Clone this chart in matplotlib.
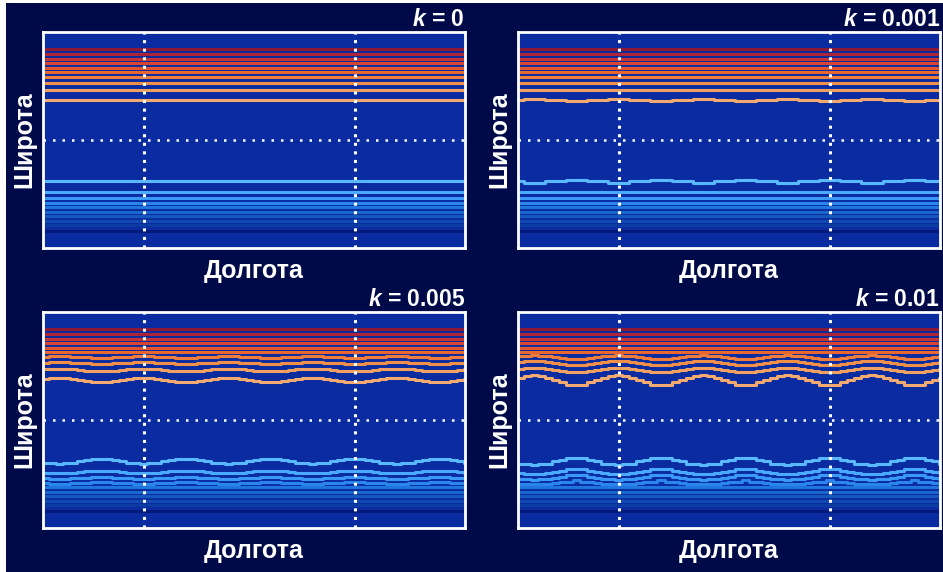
import numpy as np
import matplotlib
matplotlib.use("Agg")
import matplotlib.pyplot as plt
from matplotlib.patches import Rectangle

plt.rcParams['font.family'] = ['Liberation Sans', 'DejaVu Sans']
plt.rcParams['mathtext.fontset'] = 'custom'
plt.rcParams['mathtext.rm'] = 'Liberation Sans:bold'
plt.rcParams['mathtext.bfit'] = 'Liberation Sans:italic:bold'
plt.rcParams['mathtext.it'] = 'Liberation Sans:italic:bold'

# ---------------- data ----------------
k_values = ["0", "0.001", "0.005", "0.01"]

# base latitudes of contour lines, from equator outward (degrees)
lat_north = [33.3, 41.7, 47.5, 52.5, 56.7, 60.4, 64.2, 67.9, 71.7, 75.8]
lat_south = [-34.5, -43.1, -48.1, -52.3, -56.0, -59.8, -63.5, -67.3, -71.0, -75.6]

colors_north = ['#f2aa70', '#f0a060', '#f09048', '#ee7c3a', '#e86632', '#e05530',
                '#d64432', '#c63434', '#ac2438', '#8c1838']
colors_south = ['#5ab8ff', '#4aaaff', '#3a98f6', '#2a86ec', '#2076dc', '#1866cc',
                '#1458be', '#104ab0', '#0c3ca2', '#001a7a']

# one wave period of the equatorward displacement, sampled every 6 deg longitude
wave_profile = [1.0, 0.9, 0.68, 0.42, 0.2, 0.05, 0.0, 0.05, 0.2, 0.42, 0.68, 0.9]
wave_trough_lon = 54.0     # longitude of first maximum equatorward displacement
wave_step = 6.0            # degrees longitude per profile sample

# peak-to-peak displacement (deg) of each line, from equator outward
amp_north = [
    [0, 0, 0, 0, 0, 0, 0, 0, 0, 0],
    [1.8, 0.8, 0.6, 0.4, 0.2, 0.1, 0.1, 0.0, 0.0, 0.0],
    [4.5, 2.2, 2.0, 1.4, 0.6, 0.4, 0.3, 0.2, 0.1, 0.0],
    [8.0, 4.5, 4.0, 3.5, 0.8, 0.6, 0.4, 0.3, 0.2, 0.1],
]
amp_south = [
    [0, 0, 0, 0, 0, 0, 0, 0, 0, 0],
    [1.6, 0.6, 0.4, 0.3, 0.2, 0.1, 0.1, 0.0, 0.0, 0.0],
    [3.4, 2.2, 2.0, 1.4, 0.6, 0.4, 0.3, 0.2, 0.1, 0.0],
    [6.0, 4.2, 3.5, 3.2, 0.8, 0.6, 0.4, 0.3, 0.2, 0.1],
]

meridians = [90, 270]
xlabel = "Долгота"
ylabel = "Широта"

# ---------------- styling ----------------
outer_bg = '#000a48'
panel_bg = '#0a2ca0'
W, H = 943, 572

fig = plt.figure(figsize=(W / 100, H / 100), dpi=100)
fig.patch.set_facecolor('white')
fig.add_artist(Rectangle((6 / W, 0), 1, 1 - 3 / H, transform=fig.transFigure,
                         facecolor=outer_bg, edgecolor='none', zorder=-10))

boxes = [(43, 32), (518, 32), (43, 312), (518, 312)]
aw, ah = 422, 216

lon = np.arange(0, 372, wave_step)
idx = (np.round((lon - wave_trough_lon) / wave_step).astype(int)) % len(wave_profile)
prof = np.array(wave_profile)[idx]
q = 1.0

for p, (x0, y0) in enumerate(boxes):
    ax = fig.add_axes([x0 / W, 1 - (y0 + ah) / H, aw / W, ah / H])
    ax.set_facecolor(panel_bg)
    for i in range(len(lat_north)):
        d = np.round(amp_north[p][i] * (prof - 0.45) / q) * q
        ax.plot(lon, lat_north[i] - d, drawstyle='steps-mid', color=colors_north[i],
                lw=2.2, solid_capstyle='butt', zorder=2)
    for i in range(len(lat_south)):
        d = np.round(amp_south[p][i] * (prof - 0.45) / q) * q
        ax.plot(lon, lat_south[i] + d, drawstyle='steps-mid', color=colors_south[i],
                lw=2.2, solid_capstyle='butt', zorder=2)
    for m in meridians:
        ax.axvline(m, color='white', lw=2.2, linestyle=(0, (1, 1.8)),
                   dash_capstyle='butt', zorder=3)
    ax.axhline(0, color='white', lw=1.8, linestyle=(0, (1, 2.8)),
               dash_capstyle='butt', zorder=3)
    ax.set_xlim(4, 364)
    ax.set_ylim(-90, 90)
    ax.set_xticks([])
    ax.set_yticks([])
    for s in ax.spines.values():
        s.set_color('white')
        s.set_linewidth(2)
        s.set_zorder(4)
    ax.set_xlabel(xlabel, color='white', fontsize=18, fontweight='bold', labelpad=8)
    ax.set_ylabel(ylabel, color='white', fontsize=18, fontweight='bold', labelpad=5)
    ax.set_title(r"$\mathbfit{k}$ = " + k_values[p], loc='right', color='white',
                 fontsize=16.5, fontweight='bold', pad=4)

fig.savefig("out.png", dpi=100, facecolor=fig.get_facecolor())
